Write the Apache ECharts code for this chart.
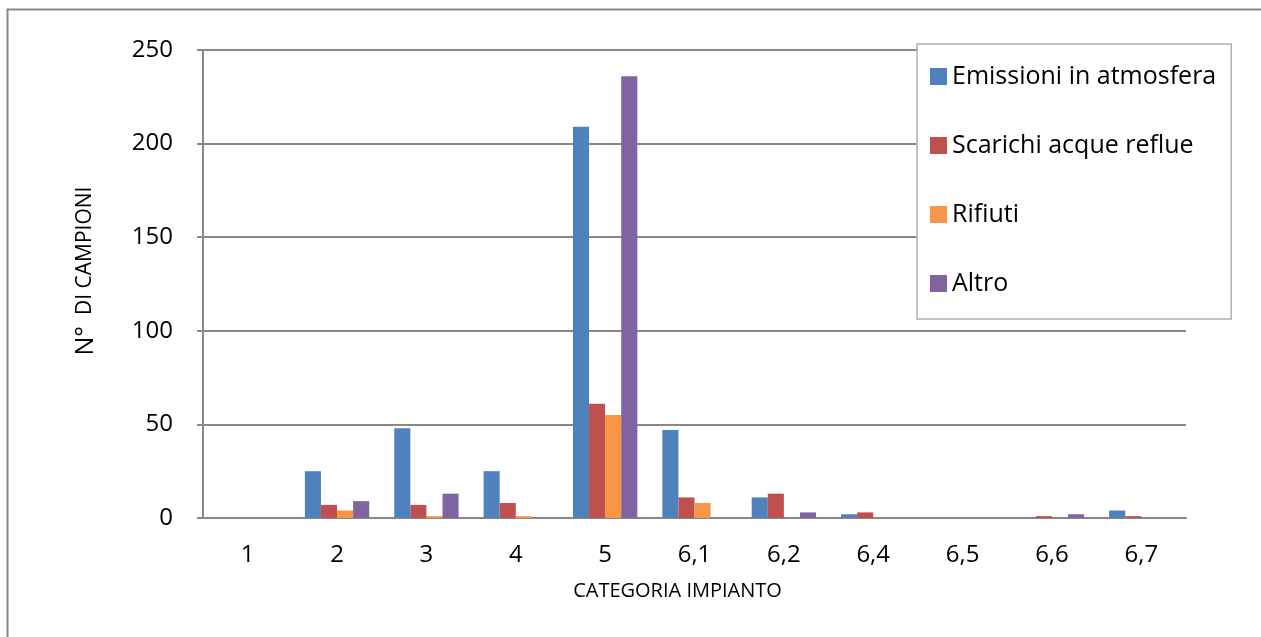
<!DOCTYPE html>
<html><head><meta charset="utf-8">
<script src="https://cdn.jsdelivr.net/npm/echarts@6/dist/echarts.min.js"></script>
<style>html,body{margin:0;padding:0;background:#fff}#c{width:1261px;height:637px}</style>
</head><body><div id="c"></div>
<script>
const categories = ['1','2','3','4','5','6,1','6,2','6,4','6,5','6,6','6,7'];
const emissioni = [0,25,48,25,209,47,11,2,0,0,4];
const scarichi  = [0,7,7,8,61,11,13,3,0,1,1];
const rifiuti   = [0,4,1,1,55,8,0,0,0,0,0];
const altro     = [0,9,13,0,236,0,3,0,0,2,0];
const seriesNames = ['Emissioni in atmosfera','Scarichi acque reflue','Rifiuti','Altro'];
const colors = ['#4F81BD','#C0504D','#F79646','#8064A2'];
const FONT = 'Open Sans';
const chart = echarts.init(document.getElementById('c'), null, {renderer:'canvas'});
const mk = (name, data, color) => ({
  name, type:'bar', data, barGap:'0%', barCategoryGap:'28%',
  itemStyle:{color}, animation:false
});
chart.setOption({
  animation:false,
  textStyle:{fontFamily:FONT},
  graphic:[{type:'rect', shape:{x:7.5,y:9.5,width:1300,height:700}, style:{fill:'none',stroke:'#888',lineWidth:2}, z:-1}],
  grid:{left:203,right:75,top:50,bottom:119,containLabel:false},
  legend:{
    orient:'vertical', left:917, top:44,
    data:seriesNames,
    itemWidth:17, itemHeight:17, itemGap:44,
    textStyle:{fontSize:25, color:'#000', fontFamily:FONT},
    backgroundColor:'#fff', borderColor:'#b0b0b0', borderWidth:1.5,
    padding:[20,15,23,13], z:10,
    icon:'rect'
  },
  xAxis:{
    type:'category', data:categories,
    name:'CATEGORIA IMPIANTO', nameLocation:'middle', nameGap:63,
    nameTextStyle:{fontSize:20,color:'#000',fontFamily:FONT,padding:[0,34,0,0]},
    axisLine:{lineStyle:{color:'#888',width:2}},
    axisTick:{show:false},
    axisLabel:{fontSize:24,color:'#000',margin:25,fontFamily:FONT}
  },
  yAxis:{
    type:'value', min:0, max:250, interval:50,
    name:'{a|N°}{b|  DI CAMPIONI}', nameLocation:'middle', nameGap:105, nameRotate:90,
    nameTextStyle:{padding:[0,0,0,26],rich:{a:{fontSize:25,color:'#000',fontFamily:FONT},b:{fontSize:21,color:'#000',fontFamily:FONT}}},
    axisLine:{show:true,lineStyle:{color:'#888',width:2}},
    axisTick:{show:true,length:6,inside:false,lineStyle:{color:'#888',width:2}},
    axisLabel:{fontSize:24,color:'#000',margin:30,fontFamily:FONT},
    splitLine:{lineStyle:{color:'#888',width:2}}
  },
  series:[mk(seriesNames[0],emissioni,colors[0]),mk(seriesNames[1],scarichi,colors[1]),mk(seriesNames[2],rifiuti,colors[2]),mk(seriesNames[3],altro,colors[3])]
});
</script></body></html>
